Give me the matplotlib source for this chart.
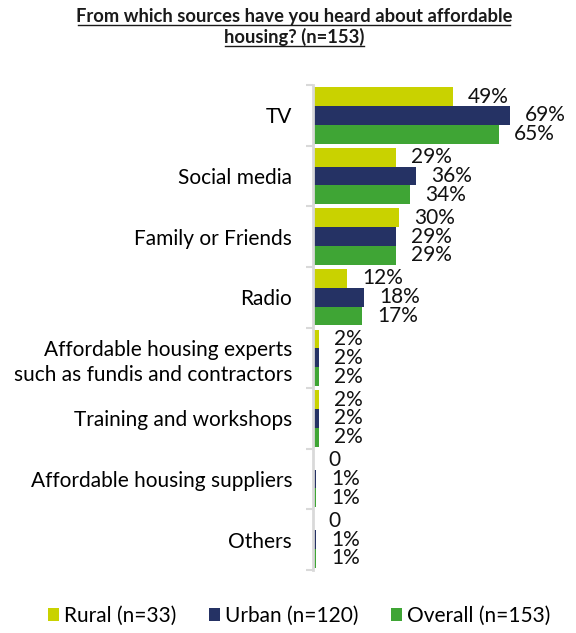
import matplotlib.pyplot as plt
import numpy as np

plt.rcParams['font.family'] = ['Lato', 'DejaVu Sans']

categories = ['TV', 'Social media', 'Family or Friends', 'Radio',
              'Affordable housing experts\nsuch as fundis and contractors',
              'Training and workshops', 'Affordable housing suppliers', 'Others']
rural = [49, 29, 30, 12, 2, 2, 0, 0]
urban = [69, 36, 29, 18, 2, 2, 1, 1]
overall = [65, 34, 29, 17, 2, 2, 1, 1]

series = [('Rural (n=33)', rural, '#c9d200'),
          ('Urban (n=120)', urban, '#253264'),
          ('Overall (n=153)', overall, '#3fa535')]

W, H = 576, 633
fig = plt.figure(figsize=(W / 100, H / 100), dpi=100)
ax = fig.add_axes([313 / W, 1 - 570 / H, 257 / W, 485 / H])

y = np.arange(len(categories))
h = 0.31
for i, (name, vals, col) in enumerate(series):
    pos = y + (i - 1) * h
    ax.barh(pos, vals, height=h, color=col, label=name)
    for p, v in zip(pos, vals):
        txt = '0' if v == 0 else f'{v}%'
        ax.annotate(txt, (v, p), xytext=(11, 0), textcoords='offset points',
                    va='center', ha='left', fontsize=15, color='#111111')

ax.set_xlim(0, 90)
ax.set_ylim(len(categories) - 0.5, -0.5)
ax.set_yticks(y)
ax.set_yticklabels(categories, fontsize=15, ha='right', linespacing=1.35)
ax.tick_params(axis='y', which='major', length=0, pad=15)
ax.set_yticks(np.arange(-0.5, len(categories)), minor=True)
ax.tick_params(axis='y', which='minor', length=5, width=1.5, color='#d9d9d9')
ax.set_xticks([])
for s in ['top', 'right', 'bottom']:
    ax.spines[s].set_visible(False)
ax.spines['left'].set_color('#d9d9d9')
ax.spines['left'].set_linewidth(2)

# two-line underlined title
title_x = 294 / W
title_lines = ['From which sources have you heard about affordable', 'housing? (n=153)']
baselines = [22, 43]
for line, b in zip(title_lines, baselines):
    fig.text(title_x, 1 - b / H, line, ha='center', va='baseline', fontsize=13.2,
             fontweight='bold', color='#1a1a1a')
fig.add_artist(plt.Line2D([78 / W, 510 / W], [1 - 24.5 / H] * 2, color='#1a1a1a', lw=1))
fig.add_artist(plt.Line2D([225 / W, 364 / W], [1 - 46 / H] * 2, color='#1a1a1a', lw=1))

handles, labels = ax.get_legend_handles_labels()
fig.legend(handles, labels, loc='center', bbox_to_anchor=(299 / W, 1 - 616 / H), ncol=3,
           frameon=False, fontsize=15, handlelength=0.53, handleheight=0.53,
           handletextpad=0.24, columnspacing=1.55, borderpad=0)

fig.savefig('out.png', dpi=100)
